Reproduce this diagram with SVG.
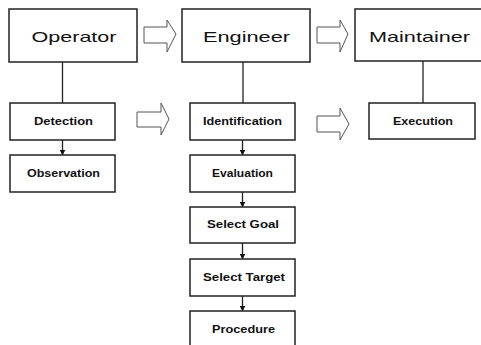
<svg xmlns="http://www.w3.org/2000/svg" width="481" height="345" viewBox="0 0 481 345">
<style>
.box{fill:#fff;stroke:#222;stroke-width:1.5}
.big{font-family:"Liberation Sans",Arial,sans-serif;font-size:15px;fill:#111;text-anchor:middle}
.sm{font-family:"Liberation Sans",Arial,sans-serif;font-size:10px;font-weight:bold;fill:#111;text-anchor:middle}
.ln{stroke:#222;stroke-width:1.3;fill:none}
.hol{fill:#fff;stroke:#555;stroke-width:1}
</style>
<defs>
<marker id="ah" markerWidth="6" markerHeight="6" refX="5" refY="3" orient="auto" markerUnits="userSpaceOnUse">
<path d="M0,0 L6,3 L0,6 Z" fill="#111"/>
</marker>
</defs>
<rect width="481" height="345" fill="#fff"/>
<g id="connectors">
<line class="ln" x1="62.5" y1="62" x2="62.5" y2="103"/>
<line class="ln" x1="243" y1="62" x2="243" y2="103"/>
<line class="ln" x1="423" y1="61" x2="423" y2="103"/>
<line class="ln" x1="62.5" y1="140" x2="62.5" y2="154.5" marker-end="url(#ah)"/>
<line class="ln" x1="242.5" y1="140" x2="242.5" y2="154.5" marker-end="url(#ah)"/>
<line class="ln" x1="242.5" y1="192" x2="242.5" y2="206.5" marker-end="url(#ah)"/>
<line class="ln" x1="242.5" y1="243" x2="242.5" y2="258.5" marker-end="url(#ah)"/>
<line class="ln" x1="242.5" y1="296" x2="242.5" y2="310.5" marker-end="url(#ah)"/>
<polygon class="hol" points="144,27 167,27 167,20 176,34 167,52 167,43 144,43"/>
<polygon class="hol" points="317,27 340,27 340,20 348,34 340,52 340,43 317,43"/>
<polygon class="hol" points="137,112 161,112 161,103 169,119 161,135 161,127 137,127"/>
<polygon class="hol" points="317,116 340,116 340,108 349,124 340,140 340,132 317,132"/>
</g>
<g id="operator"><rect class="box" x="9" y="9" width="128" height="53"/><text class="big" x="74" y="42" textLength="85" lengthAdjust="spacingAndGlyphs">Operator</text></g>
<g id="engineer"><rect class="box" x="182" y="9" width="128" height="53"/><text class="big" x="246.5" y="42" textLength="87" lengthAdjust="spacingAndGlyphs">Engineer</text></g>
<g id="maintainer"><rect class="box" x="355" y="9" width="130" height="52"/><text class="big" x="419.5" y="42" textLength="101" lengthAdjust="spacingAndGlyphs">Maintainer</text></g>
<g id="detection"><rect class="box" x="10" y="103" width="105" height="37"/><text class="sm" x="63.5" y="125" textLength="59" lengthAdjust="spacingAndGlyphs">Detection</text></g>
<g id="observation"><rect class="box" x="10" y="155" width="105" height="37"/><text class="sm" x="63.5" y="177" textLength="73" lengthAdjust="spacingAndGlyphs">Observation</text></g>
<g id="identification"><rect class="box" x="190" y="103" width="105" height="37"/><text class="sm" x="242.5" y="125" textLength="79" lengthAdjust="spacingAndGlyphs">Identification</text></g>
<g id="execution"><rect class="box" x="369" y="103" width="106" height="36"/><text class="sm" x="423" y="125" textLength="60" lengthAdjust="spacingAndGlyphs">Execution</text></g>
<g id="evaluation"><rect class="box" x="190" y="155" width="105" height="37"/><text class="sm" x="242.5" y="177" textLength="61" lengthAdjust="spacingAndGlyphs">Evaluation</text></g>
<g id="select-goal"><rect class="box" x="190" y="207" width="105" height="36"/><text class="sm" x="243" y="228" textLength="72" lengthAdjust="spacingAndGlyphs">Select Goal</text></g>
<g id="select-target"><rect class="box" x="190" y="259" width="105" height="37"/><text class="sm" x="244" y="281" textLength="82" lengthAdjust="spacingAndGlyphs">Select Target</text></g>
<g id="procedure"><rect class="box" x="190" y="311" width="105" height="37"/><text class="sm" x="243.5" y="333" textLength="63" lengthAdjust="spacingAndGlyphs">Procedure</text></g>
</svg>
